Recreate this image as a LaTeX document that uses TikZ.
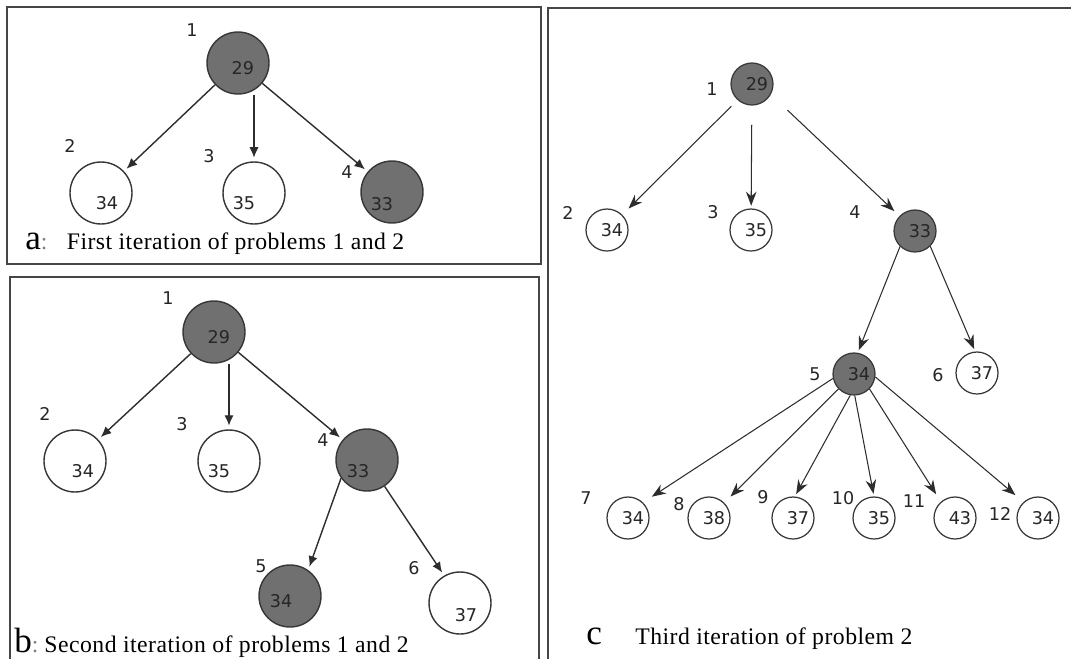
\documentclass[tikz,border=0pt]{standalone}
\usepackage{fontspec}
\setmainfont{Liberation Serif}
\newfontfamily\numfont{DejaVu Sans}
\newfontfamily\capfont[LetterSpace=2]{Liberation Serif}
\usetikzlibrary{arrows.meta}

\definecolor{nodegray}{RGB}{112,112,112}
\definecolor{ringgray}{RGB}{55,55,55}
\definecolor{linegray}{RGB}{45,45,45}
\definecolor{framegray}{RGB}{70,70,70}

\tikzset{
  frame/.style={draw=framegray, line width=0.9pt},
  big/.style={circle, draw=ringgray, line width=0.8pt, fill=white, minimum size=1.24cm, inner sep=0pt},
  small/.style={circle, draw=ringgray, line width=0.7pt, fill=white, minimum size=0.84cm, inner sep=0pt},
  hot/.style={fill=nodegray},
  tag/.style={font=\numfont\fontsize{10}{12}\selectfont, text=black!85, inner sep=0pt},
  val/.style n args={3}{label={[tag, xshift=#1, yshift=#2]center:#3}},
  cval/.style={label={[tag, xshift=2.8pt]center:#1}},
  link/.style={->, draw=linegray, line width=0.8pt, shorten >=2pt},
  clink/.style={-{Stealth[length=8pt,width=6pt]}, draw=linegray, line width=0.6pt, shorten >=1.5pt},
  capt/.style={font=\capfont\fontsize{13.5}{16}\selectfont, inner sep=0pt, anchor=base west},
}

\begin{document}
\begin{tikzpicture}[x=0.02cm, y=-0.02cm, >={Latex[length=6pt,width=5.2pt]}]
  \useasboundingbox (0,0) rectangle (1071,659);

  % frames
  \draw[frame] (7,7) rectangle (541,264);
  \draw[frame] (10,659) |- (539,277) -- (539,659);
  \draw[frame] (1071,8) -| (548,659);

  % a
  \node[big, hot, val={2.8pt}{-2.8pt}{29}] (a1) at (238,63) {};
  \node[big, val={3.4pt}{-5.7pt}{34}] (a2) at (101,193) {};
  \node[big, val={-5.7pt}{-5.7pt}{35}] (a3) at (254,193) {};
  \node[big, hot, val={-5.7pt}{-6.8pt}{33}] (a4) at (392,192) {};
  \node[tag] (a1t) at (192,30) {1};
  \node[tag] (a2t) at (70,146) {2};
  \node[tag] (a3t) at (209,156) {3};
  \node[tag] (a4t) at (347,172) {4};

  \draw[link] (a1) -- (a2);
  \draw[link] (a3 |- a1.south) -- (a3);
  \draw[link] (a1) -- (a4);

  \node[capt] (acap) at (25,249) {{\fontsize{20}{20}\selectfont a}\textcolor{gray}{:}\hspace{11pt}First iteration of problems 1 and 2};

  % b
  \node[big, hot, val={2.8pt}{-2.8pt}{29}] (b1) at (214,332) {};
  \node[big, val={4.5pt}{-5.7pt}{34}] (b2) at (75,461) {};
  \node[big, val={-5.7pt}{-5.7pt}{35}] (b3) at (229,461) {};
  \node[big, hot, val={-5.1pt}{-6.2pt}{33}] (b4) at (367,460) {};
  \node[big, hot, val={-5.1pt}{-2.8pt}{34}] (b5) at (290,596) {};
  \node[big, val={3.4pt}{-6.8pt}{37}] (b6) at (460,603) {};
  \node[tag] (b1t) at (168,298) {1};
  \node[tag] (b2t) at (45,414) {2};
  \node[tag] (b3t) at (182,424) {3};
  \node[tag] (b4t) at (323,440) {4};
  \node[tag] (b5t) at (261,566) {5};
  \node[tag] (b6t) at (414,568) {6};

  \draw[link] (b1) -- (b2);
  \draw[link] (b3 |- b1.south) -- (b3);
  \draw[link] (b1) -- (b4);
  \draw[link] (b4.215) -- (b5.55);
  \draw[link] (b4) -- (b6.120);

  \node[capt] (bcap) at (14,652) {{\fontsize{20}{20}\selectfont b}\textcolor{gray}{:}\hspace{3.4pt}Second iteration of problems 1 and 2};

  % c
  \node[small, hot, cval=29] (c1) at (752,84) {};
  \node[small, cval=34] (c2) at (607,230) {};
  \node[small, cval=35] (c3) at (751,230) {};
  \node[small, hot, cval=33] (c4) at (915,231) {};
  \node[small, hot, cval=34] (c5) at (854,374) {};
  \node[small, cval=37] (c6) at (977,373) {};
  \node[small, cval=34] (c7) at (628,518) {};
  \node[small, cval=38] (c8) at (709,518) {};
  \node[small, cval=37] (c9) at (793,518) {};
  \node[small, cval=35] (c10) at (874,518) {};
  \node[small, cval=43] (c11) at (955,518) {};
  \node[small, cval=34] (c12) at (1038,518) {};
  \node[tag] (c1t) at (712,89) {1};
  \node[tag] (c2t) at (568,213) {2};
  \node[tag] (c3t) at (713,212) {3};
  \node[tag] (c4t) at (855,212) {4};
  \node[tag] (c5t) at (815,374) {5};
  \node[tag] (c6t) at (938,375) {6};
  \node[tag] (c7t) at (586,498) {7};
  \node[tag] (c8t) at (679,504) {8};
  \node[tag] (c9t) at (763,497) {9};
  \node[tag] (c10t) at (843,498) {10};
  \node[tag] (c11t) at (914,501) {11};
  \node[tag] (c12t) at (1000,514) {12};

  \draw[clink, shorten <=5pt, shorten >=5pt] (c1.228) -- (c2.45);
  \draw[clink, shorten <=11pt] (c1) -- (c3);
  \draw[clink, shorten <=13pt, shorten >=4pt] (c1.331) -- (c4.136);
  \draw[clink] (c4.226) -- (c5.80);
  \draw[clink] (c4.315) -- (c6.95);
  \draw[clink, shorten >=6pt] (c5.192) -- (c7.46);
  \draw[clink, shorten >=5pt] (c5.224) -- (c8.45);
  \draw[clink] (c5.260) -- (c9.85);
  \draw[clink] (c5.272) -- (c10.90);
  \draw[clink, shorten >=5pt] (c5.316) -- (c11.131);
  \draw[clink, shorten >=6pt] (c5.352) -- (c12.132);

  \node[capt] (ccap) at (586,644) {{\fontsize{20}{20}\selectfont c}\hspace{19pt}Third iteration of problem 2};
\end{tikzpicture}
\end{document}
